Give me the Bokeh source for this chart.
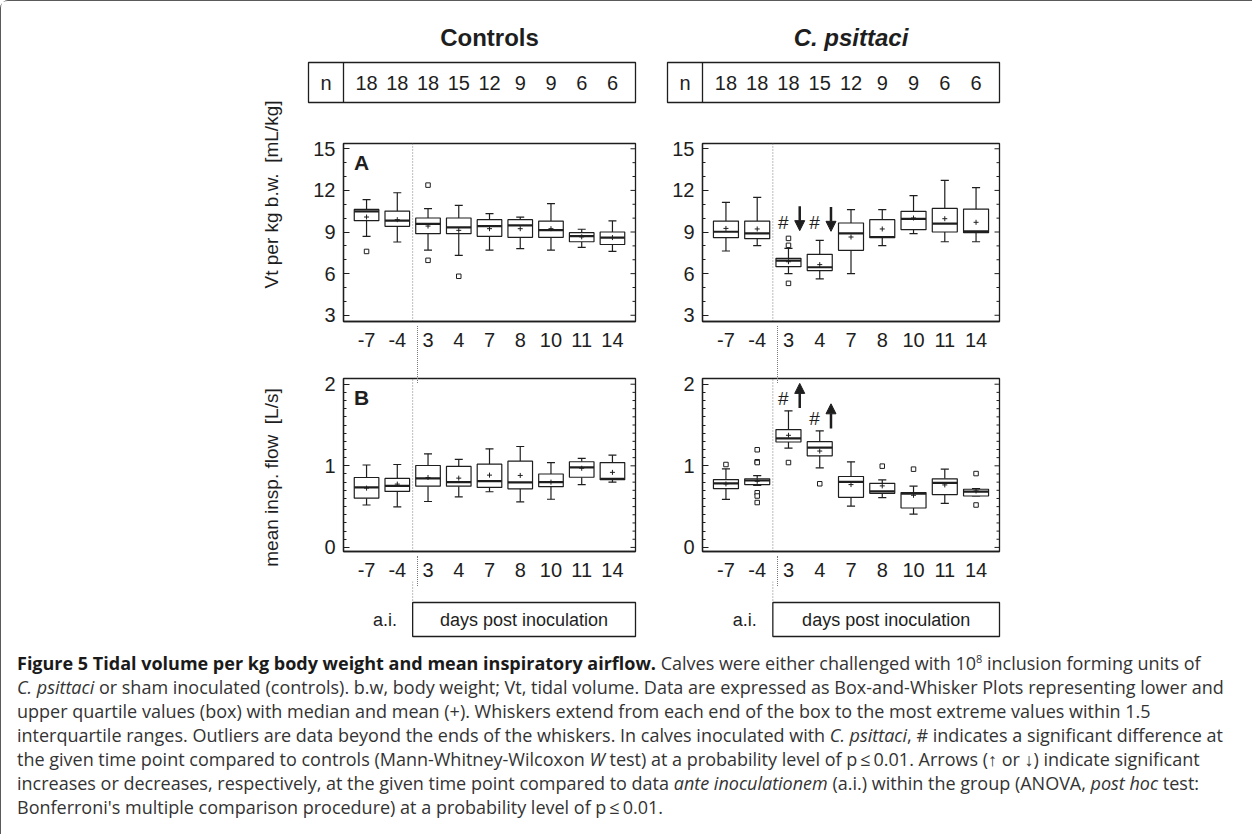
import math

from bokeh.plotting import figure
from bokeh.layouts import column, row
from bokeh.models import (Range1d, FixedTicker, SingleIntervalTicker, Arrow, NormalHead, Div)
from bokeh.core.properties import value
from bokeh.embed import file_html
from bokeh.resources import INLINE

# ---------------------------------------------------------------- data
days = ["-7", "-4", "3", "4", "7", "8", "10", "11", "14"]
n_animals = [18, 18, 18, 15, 12, 9, 9, 6, 6]

# Vt per kg b.w. [mL/kg] - controls
vt_ctrl_lo = [8.69, 8.28, 7.70, 7.32, 7.70, 7.80, 7.70, 7.90, 7.60]
vt_ctrl_q1 = [9.82, 9.41, 8.88, 8.88, 8.69, 8.62, 8.62, 8.30, 8.10]
vt_ctrl_med = [10.49, 9.82, 9.58, 9.34, 9.43, 9.48, 9.14, 8.70, 8.60]
vt_ctrl_q3 = [10.63, 10.51, 10.01, 10.01, 9.89, 9.89, 9.79, 8.95, 9.00]
vt_ctrl_hi = [11.33, 11.83, 10.68, 10.92, 10.32, 10.08, 11.04, 9.20, 9.80]
vt_ctrl_mean = [10.08, 9.89, 9.43, 9.12, 9.24, 9.24, 9.24, 8.65, 8.60]
vt_ctrl_out_day = ["-7", "3", "3", "4"]
vt_ctrl_out_val = [7.60, 12.38, 6.96, 5.81]

# Vt per kg b.w. [mL/kg] - C. psittaci
vt_cp_lo = [7.63, 8.02, 6.00, 5.62, 6.00, 8.02, 8.88, 8.30, 8.30]
vt_cp_q1 = [8.59, 8.52, 6.50, 6.22, 7.68, 8.59, 9.17, 9.00, 8.95]
vt_cp_med = [9.02, 8.90, 6.94, 6.46, 8.90, 8.64, 9.94, 9.60, 9.05]
vt_cp_q3 = [9.79, 9.79, 7.10, 7.39, 9.65, 9.89, 10.49, 10.70, 10.65]
vt_cp_hi = [11.14, 11.50, 7.82, 8.40, 10.61, 10.61, 11.62, 12.72, 12.20]
vt_cp_mean = [9.26, 9.22, 6.86, 6.65, 8.64, 9.22, 10.01, 9.96, 9.70]
vt_cp_out_day = ["3", "3", "3"]
vt_cp_out_val = [8.54, 8.04, 5.30]

# mean inspiratory flow [L/s] - controls
fl_ctrl_lo = [0.520, 0.498, 0.563, 0.620, 0.682, 0.559, 0.590, 0.770, 0.800]
fl_ctrl_q1 = [0.604, 0.686, 0.751, 0.751, 0.735, 0.718, 0.745, 0.860, 0.830]
fl_ctrl_med = [0.735, 0.755, 0.845, 0.800, 0.812, 0.796, 0.800, 0.980, 0.840]
fl_ctrl_q3 = [0.857, 0.845, 1.004, 0.992, 1.020, 1.057, 0.900, 1.050, 1.040]
fl_ctrl_hi = [1.010, 1.016, 1.147, 1.078, 1.208, 1.237, 1.040, 1.090, 1.130]
fl_ctrl_mean = [0.727, 0.776, 0.857, 0.849, 0.886, 0.882, 0.800, 0.970, 0.920]
fl_ctrl_out_day = []
fl_ctrl_out_val = []

# mean inspiratory flow [L/s] - C. psittaci
fl_cp_lo = [0.589, 0.760, 1.218, 0.975, 0.507, 0.610, 0.409, 0.540, 0.630]
fl_cp_q1 = [0.720, 0.770, 1.292, 1.123, 0.614, 0.663, 0.483, 0.647, 0.630]
fl_cp_med = [0.786, 0.820, 1.337, 1.222, 0.803, 0.688, 0.660, 0.790, 0.684]
fl_cp_q3 = [0.832, 0.840, 1.444, 1.296, 0.869, 0.786, 0.672, 0.840, 0.713]
fl_cp_hi = [0.963, 0.880, 1.674, 1.427, 1.049, 0.827, 0.750, 0.959, 0.720]
fl_cp_mean = [0.778, 0.810, 1.374, 1.181, 0.770, 0.754, 0.639, 0.766, 0.692]
fl_cp_out_day = ["-7", "-4", "-4", "-4", "-4", "-4", "-4", "3", "4", "8", "10", "14", "14"]
fl_cp_out_val = [1.016, 1.197, 1.050, 1.040, 0.670, 0.630, 0.550, 1.040, 0.780,
                 0.996, 0.959, 0.905, 0.520]

# days with a significant difference (#) and a change vs. a.i. (arrows)
sig_days = ["3", "4"]

y_titles = ["Vt per kg b.w.\u00a0 [mL/kg]", "mean insp. flow\u00a0 [L/s]"]

# ---------------------------------------------------------------- styling
INK = "#1e1e1e"
SANS = "'Liberation Sans', Arial, sans-serif"
DOT = "#7a7a7a"
DOT_DASH = "1 2"

X_LO, X_HI = 0.25, 9.75
xs = list(range(1, len(days) + 1))
AI_SPLIT = 2.5

LABEL_W = 300                      # strip holding the rotated y titles
CTRL_W, PSIT_W = 358, 590
CTRL_LEFT, CTRL_FW = 42, 292
PSIT_LEFT, PSIT_FW = 43, 297
HEAD_H = 128
A_H, A_TOP = 222, 14
B_H, B_TOP = 230, 27
BOTTOM = 30
FOOT_H = 63
CAP_H = 187
PLOTS_H = HEAD_H + A_H + B_H + FOOT_H

A_RANGE = (2.55, 15.38)
B_RANGE = (-0.05, 2.07)


def base_figure(width, height, x_range, y_range, **kw):
    p = figure(width=width, height=height, x_range=x_range, y_range=y_range,
               output_backend="svg", toolbar_location=None, **kw)
    p.xgrid.visible = False
    p.ygrid.visible = False
    p.background_fill_color = "white"
    p.border_fill_color = "white"
    return p


def tick_values(lo, hi, step):
    k0 = int(lo / step) - 1
    k1 = int(hi / step) + 1
    return [round(k * step, 6) for k in range(k0, k1 + 1) if lo <= k * step <= hi]


def box_panel(width, left, fw, height, top, yr, stats, out_day, out_val, interval, minors):
    lo, q1, med, q3, hi, mean = stats
    p = base_figure(width, height, Range1d(X_LO, X_HI), Range1d(*yr),
                    min_border_left=left, min_border_right=width - left - fw,
                    min_border_top=top, min_border_bottom=BOTTOM)
    p.outline_line_color = INK
    p.outline_line_width = 1.3

    xa = p.xaxis[0]
    xa.ticker = FixedTicker(ticks=xs)
    xa.major_label_overrides = {x: d for x, d in zip(xs, days)}
    xa.major_tick_line_color = None
    xa.minor_tick_line_color = None
    xa.axis_line_color = INK
    xa.axis_line_width = 1.3
    xa.major_label_text_font = SANS
    xa.major_label_text_font_size = "20px"
    xa.major_label_text_color = INK
    xa.major_label_standoff = 5

    ya = p.yaxis[0]
    ya.ticker = SingleIntervalTicker(interval=interval, num_minor_ticks=minors)
    ya.axis_line_color = INK
    ya.axis_line_width = 1.3
    ya.major_tick_in = 6
    ya.major_tick_out = 0
    ya.minor_tick_in = 3
    ya.minor_tick_out = 0
    ya.major_tick_line_color = INK
    ya.minor_tick_line_color = INK
    ya.major_label_text_font = SANS
    ya.major_label_text_font_size = "20px"
    ya.major_label_text_color = INK
    ya.major_label_standoff = 8

    kx = fw / (X_HI - X_LO)
    ky = (height - top - BOTTOM) / (yr[1] - yr[0])

    # mirrored ticks along the right edge of the frame
    majors = tick_values(yr[0], yr[1], interval)
    minors_v = [v for v in tick_values(yr[0], yr[1], interval / minors) if v not in majors]
    p.segment([X_HI - 5 / kx] * len(majors), majors, [X_HI] * len(majors), majors,
              line_color=INK, line_width=1)
    p.segment([X_HI - 3 / kx] * len(minors_v), minors_v, [X_HI] * len(minors_v), minors_v,
              line_color=INK, line_width=1)

    # separator between ante- and post-inoculation days
    p.segment([AI_SPLIT], [yr[0]], [AI_SPLIT], [yr[1]], line_color=DOT, line_width=1,
              line_dash=DOT_DASH)

    cap = 0.13
    half = 0.4
    lw = 1.2
    p.segment(xs, lo, xs, q1, line_color=INK, line_width=lw)
    p.segment(xs, q3, xs, hi, line_color=INK, line_width=lw)
    p.segment([x - cap for x in xs], lo, [x + cap for x in xs], lo, line_color=INK, line_width=lw)
    p.segment([x - cap for x in xs], hi, [x + cap for x in xs], hi, line_color=INK, line_width=lw)
    p.vbar(x=xs, width=2 * half, bottom=q1, top=q3, fill_color="white",
           line_color=INK, line_width=lw)
    p.segment([x - half for x in xs], med, [x + half for x in xs], med,
              line_color=INK, line_width=2.2)
    p.scatter(xs, mean, marker="cross", size=5, line_color=INK, line_width=1)
    if out_day:
        ox = [xs[days.index(d)] for d in out_day]
        p.scatter(ox, out_val, marker="square", size=4.5, fill_color="white",
                  line_color=INK, line_width=1)
    return p, kx, ky


def strip(width, left, fw, height):
    kx = fw / (X_HI - X_LO)
    p = base_figure(width, height,
                    Range1d(X_LO - left / kx, X_LO + (width - left) / kx),
                    Range1d(height, 0),
                    x_axis_type=None, y_axis_type=None, min_border=0)
    p.outline_line_color = None
    return p, kx


def header(width, left, fw, title, style):
    p, kx = strip(width, left, fw, HEAD_H)
    p.text(x=[(X_LO + X_HI) / 2], y=[36], text=[title], text_font=value(SANS),
           text_font_style=style, text_font_size="24px", text_color=INK,
           text_align="center", text_baseline="middle")
    t_left = X_LO - 35 / kx
    p.quad(left=[t_left], right=[X_HI], top=[61], bottom=[101], fill_color=None,
           line_color=INK, line_width=1.3)
    p.segment([X_LO], [61], [X_LO], [101], line_color=INK, line_width=1.3)
    p.text(x=[(t_left + X_LO) / 2], y=[81], text=["n"], text_font=value(SANS),
           text_font_size="20px", text_color=INK, text_align="center", text_baseline="middle")
    p.text(x=xs, y=[81] * len(xs), text=[str(n) for n in n_animals], text_font=value(SANS),
           text_font_size="20px", text_color=INK, text_align="center", text_baseline="middle")
    return p


def footer(width, left, fw):
    p, kx = strip(width, left, fw, FOOT_H)
    p.segment([AI_SPLIT], [0], [AI_SPLIT], [21], line_color=DOT, line_width=1,
              line_dash=DOT_DASH)
    p.quad(left=[AI_SPLIT], right=[X_HI], top=[21], bottom=[55], fill_color=None,
           line_color=INK, line_width=1.3)
    p.text(x=[1.6], y=[38], text=["a.i."], text_font=value(SANS), text_font_size="18px",
           text_color=INK, text_align="center", text_baseline="middle")
    p.text(x=[(AI_SPLIT + X_HI) / 2], y=[38], text=["days post inoculation"],
           text_font=value(SANS), text_font_size="18px", text_color=INK,
           text_align="center", text_baseline="middle")
    return p


def title_strip():
    # rotated measurement titles for the two rows of panels (pixel coordinates)
    p = base_figure(LABEL_W, PLOTS_H, Range1d(0, LABEL_W), Range1d(PLOTS_H, 0),
                    x_axis_type=None, y_axis_type=None, min_border=0)
    p.outline_line_color = None
    p.text(x=[270, 270], y=[193, 476], text=y_titles, angle=math.pi / 2,
           text_font=value(SANS), text_font_size="19px", text_color=INK,
           text_align="center", text_baseline="middle")
    return p


def panel_letter(p, kx, ky, yr, letter):
    p.text(x=[X_LO + 18 / kx], y=[yr[1] - 19 / ky], text=[letter], text_font=value(SANS),
           text_font_style="bold", text_font_size="21px", text_color=INK,
           text_align="center", text_baseline="middle")


def significance(p, hash_y, arrow_from, arrow_to):
    for d, hy, a0, a1 in zip(sig_days, hash_y, arrow_from, arrow_to):
        x = xs[days.index(d)]
        p.text(x=[x - 0.17], y=[hy], text=["#"], text_font=value(SANS),
               text_font_size="19px", text_color=INK, text_align="center",
               text_baseline="middle")
        p.add_layout(Arrow(end=NormalHead(size=10, fill_color=INK, line_color=INK),
                           x_start=x + 0.36, y_start=a0, x_end=x + 0.36, y_end=a1,
                           line_color=INK, line_width=2.5))


# ---------------------------------------------------------------- panels
hc = header(CTRL_W, CTRL_LEFT, CTRL_FW, "Controls", "bold")
hp = header(PSIT_W, PSIT_LEFT, PSIT_FW, "C. psittaci", "bold italic")

ac, kxc, kya = box_panel(CTRL_W, CTRL_LEFT, CTRL_FW, A_H, A_TOP, A_RANGE,
                         (vt_ctrl_lo, vt_ctrl_q1, vt_ctrl_med, vt_ctrl_q3, vt_ctrl_hi, vt_ctrl_mean),
                         vt_ctrl_out_day, vt_ctrl_out_val, 3, 3)
ap, kxp, _ = box_panel(PSIT_W, PSIT_LEFT, PSIT_FW, A_H, A_TOP, A_RANGE,
                       (vt_cp_lo, vt_cp_q1, vt_cp_med, vt_cp_q3, vt_cp_hi, vt_cp_mean),
                       vt_cp_out_day, vt_cp_out_val, 3, 3)
bc, _, kyb = box_panel(CTRL_W, CTRL_LEFT, CTRL_FW, B_H, B_TOP, B_RANGE,
                       (fl_ctrl_lo, fl_ctrl_q1, fl_ctrl_med, fl_ctrl_q3, fl_ctrl_hi, fl_ctrl_mean),
                       fl_ctrl_out_day, fl_ctrl_out_val, 1, 10)
bp, _, _ = box_panel(PSIT_W, PSIT_LEFT, PSIT_FW, B_H, B_TOP, B_RANGE,
                     (fl_cp_lo, fl_cp_q1, fl_cp_med, fl_cp_q3, fl_cp_hi, fl_cp_mean),
                     fl_cp_out_day, fl_cp_out_val, 1, 10)

panel_letter(ac, kxc, kya, A_RANGE, "A")
panel_letter(bc, kxc, kyb, B_RANGE, "B")

significance(ap, [9.65, 9.65], [10.85, 10.80], [9.10, 9.05])
significance(bp, [1.826, 1.58], [1.71, 1.456], [2.01, 1.76])

fc = footer(CTRL_W, CTRL_LEFT, CTRL_FW)
fp = footer(PSIT_W, PSIT_LEFT, PSIT_FW)
ts = title_strip()

# ---------------------------------------------------------------- caption
caption_lines = [
    "<b style='color:#1a1a1a'>Figure 5 Tidal volume per kg body weight and mean inspiratory airflow.</b> "
    "Calves were either challenged with 10<sup style='font-size:11px;line-height:0'>8</sup> "
    "inclusion forming units of",
    "<i>C. psittaci</i> or sham inoculated (controls). b.w, body weight; Vt, tidal volume. "
    "Data are expressed as Box-and-Whisker Plots representing lower and",
    "upper quartile values (box) with median and mean (+). Whiskers extend from each end "
    "of the box to the most extreme values within 1.5",
    "interquartile ranges. Outliers are data beyond the ends of the whiskers. In calves "
    "inoculated with <i>C. psittaci</i>, # indicates a significant difference at",
    "the given time point compared to controls (Mann-Whitney-Wilcoxon <i>W</i> test) at a "
    "probability level of p\u2009\u2264\u20090.01. Arrows (\u2191 or \u2193) indicate significant",
    "increases or decreases, respectively, at the given time point compared to data "
    "<i>ante inoculationem</i> (a.i.) within the group (ANOVA, <i>post hoc</i> test:",
    "Bonferroni's multiple comparison procedure) at a probability level of p\u2009\u2264\u20090.01.",
]

# continuation of the a.i. separator through the tick-label rows and between the panels
sep_x = [LABEL_W + CTRL_LEFT + (AI_SPLIT - X_LO) * kxc,
         LABEL_W + CTRL_W + PSIT_LEFT + (AI_SPLIT - X_LO) * kxp]
sep_runs = [(HEAD_H + A_H - BOTTOM, HEAD_H + A_H + B_TOP),
            (HEAD_H + A_H + B_H - BOTTOM, HEAD_H + A_H + B_H)]
seps = "".join(
    f"<div style='position:absolute;left:{x:.1f}px;top:{y0 - PLOTS_H}px;width:0;"
    f"height:{y1 - y0}px;border-left:1px dotted {DOT};'></div>"
    for x in sep_x for (y0, y1) in sep_runs)

body = "".join(f"<div>{line}</div>" for line in caption_lines)
caption = Div(
    text=("<div style='position:relative;'>" + seps +
          "<div style=\"font-family:'Open Sans',sans-serif;font-size:18px;line-height:24px;"
          "color:#333;white-space:nowrap;padding:2px 0 0 11px;\">" + body + "</div></div>"),
    width=LABEL_W + CTRL_W + PSIT_W, height=CAP_H)

plots = column(row(hc, hp), row(ac, ap), row(bc, bp), row(fc, fp))
root = column(row(ts, plots), caption,
              styles={"border": "1.5px solid #5a5a5a", "border-radius": "8px"})

open("out.html", "w").write(file_html(root, INLINE, title="Tidal volume and inspiratory airflow"))
